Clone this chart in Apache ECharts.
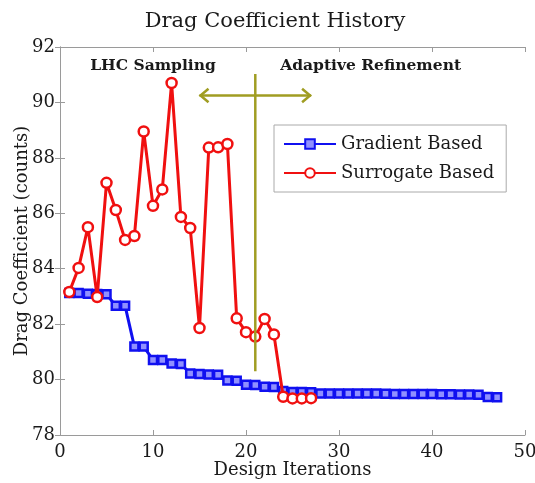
<!DOCTYPE html>
<html>
<head>
<meta charset="utf-8">
<script src="https://cdn.jsdelivr.net/npm/echarts@6/dist/echarts.min.js"></script>
<style>
  html, body { margin: 0; padding: 0; background: #fff; }
  #chart { width: 535px; height: 483px; }
</style>
</head>
<body>
<div id="chart"></div>
<script>
// Drag coefficient history: gradient-based vs surrogate-based optimisation
const gradientIter = [1,2,3,4,5,6,7,8,9,10,11,12,13,14,15,16,17,18,19,20,21,22,23,24,25,26,27,28,29,30,31,32,33,34,35,36,37,38,39,40,41,42,43,44,45,46,47];
const gradientCd = [83.12,83.12,83.1,83.09,83.08,82.66,82.66,81.19,81.19,80.71,80.71,80.58,80.56,80.22,80.2,80.18,80.17,79.97,79.96,79.81,79.8,79.74,79.73,79.59,79.55,79.55,79.54,79.5,79.5,79.5,79.5,79.5,79.5,79.5,79.49,79.48,79.48,79.48,79.48,79.48,79.47,79.47,79.46,79.46,79.45,79.37,79.36];
const surrogateIter = [1,2,3,4,5,6,7,8,9,10,11,12,13,14,15,16,17,18,19,20,21,22,23,24,25,26,27];
const surrogateCd = [83.16,84.03,85.5,82.98,87.1,86.12,85.04,85.18,88.95,86.27,86.86,90.7,85.87,85.47,81.86,88.37,88.38,88.5,82.21,81.71,81.55,82.19,81.63,79.38,79.32,79.32,79.33];

const xTicks = { min: 0, max: 50, step: 10 };
const yTicks = { min: 78, max: 92, step: 2 };

// Phase split: vertical marker and double arrow between the two phases
const splitIter = 21;
const splitRange = [80.3, 91.03];
const arrowSpan = [15, 27];
const arrowLevel = 90.25;
const phaseLabels = [
  { text: 'LHC Sampling', x: 10.0, y: 91.3 },
  { text: 'Adaptive Refinement', x: 33.4, y: 91.3 }
];

const serif = '"DejaVu Serif", "Liberation Serif", serif';
const axisGray = '#9a9a9a';
const olive = '#a09d22';
const ink = '#1a1a1a';

const zip = (a, b) => a.map((v, i) => [v, b[i]]);

const chart = echarts.init(document.getElementById('chart'));

const baseAxis = {
  axisLine: { show: true, lineStyle: { color: axisGray, width: 1 } },
  axisTick: { show: true, inside: true, length: 5, lineStyle: { color: axisGray } },
  splitLine: { show: false }
};

chart.setOption({
  animation: false,
  backgroundColor: '#fff',
  title: {
    text: 'Drag Coefficient History',
    left: 270, top: 6, textAlign: 'center',
    textStyle: { fontFamily: serif, fontSize: 21, fontWeight: 'normal', color: ink }
  },
  grid: { left: 60, right: 10, top: 47, bottom: 48, show: false, containLabel: false, outerBoundsMode: 'none' },
  legend: {
    left: 274, top: 125,
    orient: 'vertical',
    backgroundColor: '#fff',
    borderColor: '#aaa', borderWidth: 1,
    padding: [10, 12, 10, 9],
    itemGap: 11,
    itemWidth: 52, itemHeight: 12,
    textStyle: { fontFamily: serif, fontSize: 18, color: ink },
    data: ['Gradient Based', 'Surrogate Based']
  },
  xAxis: [
    Object.assign({}, baseAxis, {
      type: 'value', min: xTicks.min, max: xTicks.max, interval: xTicks.step,
      name: 'Design Iterations', nameLocation: 'middle', nameGap: 26, nameMoveOverlap: false,
      nameTextStyle: { fontFamily: serif, fontSize: 18, color: ink },
      axisLabel: { fontFamily: serif, fontSize: 18, color: ink, margin: 8 }
    }),
    Object.assign({}, baseAxis, {
      type: 'value', position: 'top', min: xTicks.min, max: xTicks.max, interval: xTicks.step,
      axisLabel: { show: false }
    })
  ],
  yAxis: [
    Object.assign({}, baseAxis, {
      type: 'value', min: yTicks.min, max: yTicks.max, interval: yTicks.step,
      name: 'Drag Coefficient (counts)', nameLocation: 'middle', nameGap: 29, nameMoveOverlap: false,
      nameTextStyle: { fontFamily: serif, fontSize: 18, color: ink },
      axisLabel: { fontFamily: serif, fontSize: 18, color: ink, margin: 5 }
    }),
    Object.assign({}, baseAxis, {
      type: 'value', position: 'right', min: yTicks.min, max: yTicks.max, interval: yTicks.step,
      axisLabel: { show: false }
    })
  ],
  series: [
    {
      name: 'Gradient Based', type: 'line',
      data: zip(gradientIter, gradientCd),
      color: '#1010f0',
      lineStyle: { width: 3, color: '#1010f0' },
      symbol: 'rect', symbolSize: 8,
      itemStyle: { color: '#9090ff', borderColor: '#1010f0', borderWidth: 2.5 },
      z: 3
    },
    {
      name: 'Surrogate Based', type: 'line',
      data: zip(surrogateIter, surrogateCd),
      color: '#f01010',
      lineStyle: { width: 3, color: '#f01010' },
      symbol: 'circle', symbolSize: 10,
      itemStyle: { color: '#ffffff', borderColor: '#f01010', borderWidth: 2.5 },
      z: 4
    },
    {
      name: 'phases', type: 'custom',
      data: [[0]],
      z: 5,
      silent: true,
      renderItem: function (params, api) {
        const top = api.coord([splitIter, splitRange[1]]);
        const bot = api.coord([splitIter, splitRange[0]]);
        const a = api.coord([arrowSpan[0], arrowLevel]);
        const b = api.coord([arrowSpan[1], arrowLevel]);
        const head = 9;
        const lineStyle = { stroke: olive, lineWidth: 2.5, fill: null };
        const children = [
          { type: 'line', shape: { x1: top[0], y1: top[1], x2: bot[0], y2: bot[1] }, style: lineStyle },
          { type: 'line', shape: { x1: a[0], y1: a[1], x2: b[0], y2: b[1] }, style: lineStyle },
          { type: 'polyline', shape: { points: [[a[0] + head, a[1] - head * 0.75], [a[0] + 1, a[1]], [a[0] + head, a[1] + head * 0.75]] }, style: lineStyle },
          { type: 'polyline', shape: { points: [[b[0] - head, b[1] - head * 0.75], [b[0] - 1, b[1]], [b[0] - head, b[1] + head * 0.75]] }, style: lineStyle }
        ];
        phaseLabels.forEach(function (l) {
          const p = api.coord([l.x, l.y]);
          children.push({
            type: 'text', x: p[0], y: p[1],
            style: { text: l.text, fill: ink, font: 'bold 15.5px ' + serif, align: 'center', verticalAlign: 'middle' }
          });
        });
        return { type: 'group', children: children };
      }
    }
  ]
});
</script>
</body>
</html>
